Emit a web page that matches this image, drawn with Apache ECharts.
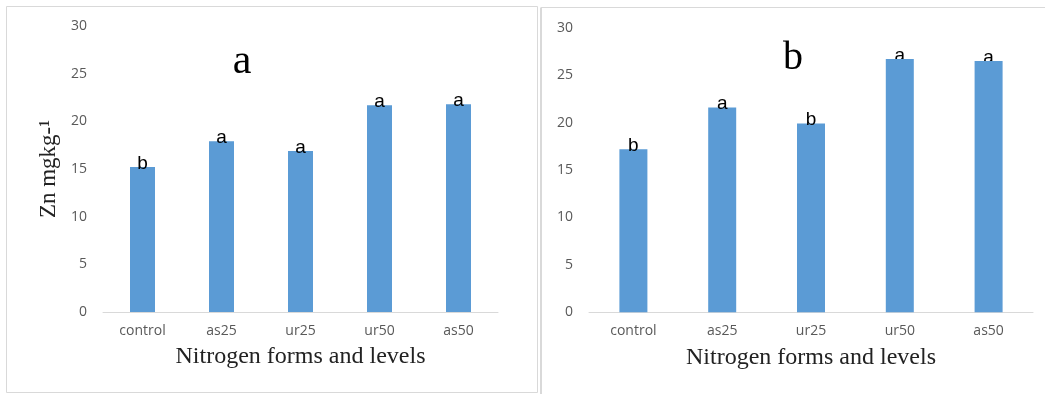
<!DOCTYPE html>
<html>
<head>
<meta charset="utf-8">
<script src="https://cdn.jsdelivr.net/npm/echarts@6/dist/echarts.min.js"></script>
<style>
html,body{margin:0;padding:0;background:#fff;}
#chart{width:1045px;height:394px;}
</style>
</head>
<body>
<div id="chart"></div>
<script>
const categories = ['control', 'as25', 'ur25', 'ur50', 'as50'];
const valuesA = [15.2, 17.9, 16.9, 21.7, 21.8];
const valuesB = [17.2, 21.6, 19.9, 26.7, 26.5];
const lettersA = ['b', 'a', 'a', 'a', 'a'];
const lettersB = ['b', 'a', 'b', 'a', 'a'];
const behindA = [false, false, false, false, false];
const behindB = [false, false, false, true, true];
const yMin = 0, yMax = 30, yStep = 5;
const panelLabels = ['a', 'b'];
const xTitle = 'Nitrogen forms and levels';
const yTitle = 'Zn mgkg-\u00B9';

const BAR = '#5b9bd5';
const GRAY = '#595959';
const LINE = '#d9d9d9';

const chart = echarts.init(document.getElementById('chart'), null, {renderer: 'canvas'});

function xAxisCfg(gi) {
  return {
    type: 'category', gridIndex: gi, data: categories,
    axisLine: {lineStyle: {color: LINE, width: 1}},
    axisTick: {show: false},
    axisLabel: {color: GRAY, fontFamily: 'Open Sans', fontSize: 14, margin: 12},
    name: xTitle, nameLocation: 'middle', nameGap: 33,
    nameTextStyle: {fontFamily: 'Liberation Serif', fontSize: 24, color: '#222'}
  };
}
function yAxisCfg(gi, withName) {
  const c = {
    type: 'value', gridIndex: gi, min: yMin, max: yMax, interval: yStep,
    axisLine: {show: false}, axisTick: {show: false},
    splitLine: {show: false},
    axisLabel: {color: GRAY, fontFamily: 'Open Sans', fontSize: 14, margin: 16}
  };
  if (withName) {
    c.name = yTitle; c.nameLocation = 'middle'; c.nameGap = 43; c.nameRotate = 90;
    c.nameTextStyle = {fontFamily: 'Liberation Serif', fontSize: 23, color: '#222'};
  }
  return c;
}
function labelCfg(letters, flags, want) {
  return {
    show: true, position: 'top', offset: [0, 11],
    fontFamily: 'Liberation Sans', fontSize: 19, color: '#000',
    formatter: p => (flags[p.dataIndex] === want ? letters[p.dataIndex] : '')
  };
}
function seriesFor(gi, values, letters, flags, bw) {
  return [
    {
      type: 'bar', xAxisIndex: gi, yAxisIndex: gi, data: values, z: 1,
      barWidth: bw, barGap: '-100%', itemStyle: {color: 'rgba(0,0,0,0)'},
      label: labelCfg(letters, flags, true), silent: true, emphasis: {disabled: true}
    },
    {
      type: 'bar', xAxisIndex: gi, yAxisIndex: gi, data: values, z: 2,
      barWidth: bw, barGap: '-100%', itemStyle: {color: BAR},
      label: labelCfg(letters, flags, false), silent: true, emphasis: {disabled: true}
    }
  ];
}

chart.setOption({
  animation: false,
  backgroundColor: '#fff',
  grid: [
    {left: 103, top: 26, width: 395, height: 286},
    {left: 589, top: 27.7, width: 444, height: 284.6}
  ],
  xAxis: [xAxisCfg(0), xAxisCfg(1)],
  yAxis: [yAxisCfg(0, true), yAxisCfg(1, false)],
  series: [].concat(
    seriesFor(0, valuesA, lettersA, behindA, 25),
    seriesFor(1, valuesB, lettersB, behindB, 28)
  ),
  graphic: [
    {type: 'rect', shape: {x: 6.5, y: 6.5, width: 531, height: 386}, style: {fill: 'none', stroke: LINE, lineWidth: 1}, z: -1, silent: true},
    {type: 'line', shape: {x1: 541, y1: 7.5, x2: 541, y2: 394}, style: {stroke: LINE, lineWidth: 2}, silent: true},
    {type: 'line', shape: {x1: 541, y1: 7.5, x2: 1045, y2: 7.5}, style: {stroke: LINE, lineWidth: 1}, silent: true},
    {type: 'text', x: 242, y: 62, style: {text: panelLabels[0], font: '42px "Liberation Serif"', fill: '#000', textAlign: 'center', textVerticalAlign: 'middle'}, silent: true},
    {type: 'text', x: 793, y: 58, style: {text: panelLabels[1], font: '40px "Liberation Serif"', fill: '#000', textAlign: 'center', textVerticalAlign: 'middle'}, silent: true}
  ]
});
</script>
</body>
</html>
